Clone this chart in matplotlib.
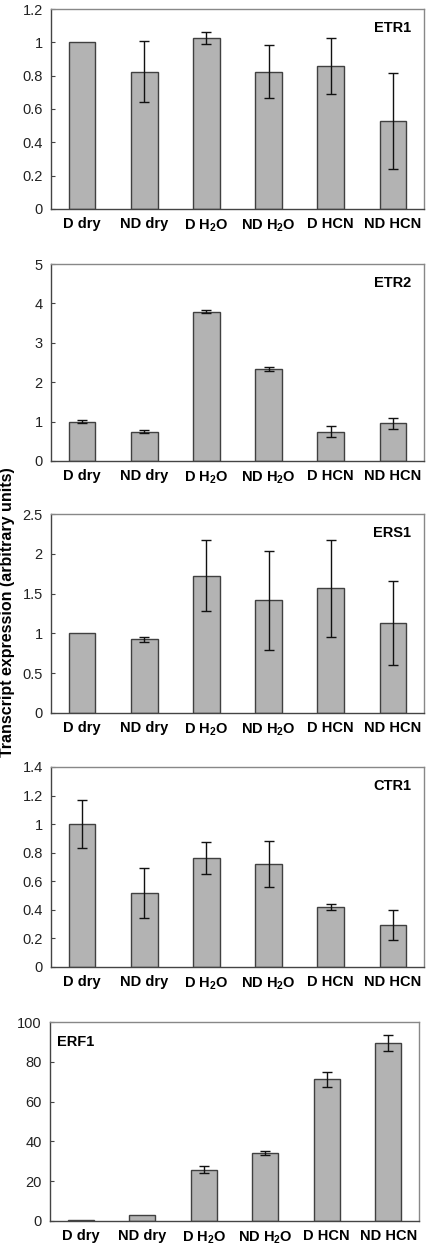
import matplotlib

matplotlib.use("Agg")
import matplotlib.pyplot as plt
import numpy as np

plt.rcParams["font.family"] = ["Liberation Sans", "DejaVu Sans"]
plt.rcParams["mathtext.fontset"] = "custom"
plt.rcParams["mathtext.rm"] = "Liberation Sans:bold"
plt.rcParams["mathtext.bf"] = "Liberation Sans:bold"
plt.rcParams["mathtext.default"] = "rm"

categories = ["D dry", "ND dry", "D H$_2$O", "ND H$_2$O", "D HCN", "ND HCN"]

genes = ["ETR1", "ETR2", "ERS1", "CTR1", "ERF1"]

etr1_mean = [1.0, 0.825, 1.025, 0.825, 0.857, 0.528]
etr1_err = [0.0, 0.185, 0.035, 0.16, 0.167, 0.287]

etr2_mean = [1.0, 0.745, 3.79, 2.34, 0.745, 0.955]
etr2_err = [0.03, 0.03, 0.03, 0.05, 0.145, 0.145]

ers1_mean = [1.0, 0.924, 1.727, 1.417, 1.568, 1.133]
ers1_err = [0.0, 0.03, 0.45, 0.62, 0.61, 0.53]

ctr1_mean = [1.0, 0.518, 0.763, 0.723, 0.42, 0.294]
ctr1_err = [0.17, 0.176, 0.113, 0.16, 0.019, 0.107]

erf1_mean = [0.5, 3.2, 25.75, 34.1, 71.2, 89.5]
erf1_err = [0.0, 0.0, 1.8, 1.0, 3.8, 4.2]

means = [etr1_mean, etr2_mean, ers1_mean, ctr1_mean, erf1_mean]
errs = [etr1_err, etr2_err, ers1_err, ctr1_err, erf1_err]
ylims = [1.2, 5, 2.5, 1.4, 100]
ysteps = [0.2, 1, 0.5, 0.2, 20]

# axes boxes in pixels (left, top, right, bottom)
boxes = [
    (51, 9, 424, 209),
    (51, 264, 424, 461),
    (51, 514, 424, 713),
    (51, 767, 424, 967),
    (50, 1022, 419, 1221),
]

W, H = 428, 1244
fig = plt.figure(figsize=(W / 100, H / 100), dpi=100)

for i, gene in enumerate(genes):
    l, t, r, b = boxes[i]
    ax = fig.add_axes([l / W, 1 - b / H, (r - l) / W, (b - t) / H])
    x = np.arange(len(categories))
    ax.bar(x, means[i], width=0.43, color="#b3b3b3", edgecolor="#404040", linewidth=1.0)
    e = np.array(errs[i])
    m = np.array(means[i])
    sel = e > 0
    ax.errorbar(x[sel], m[sel], yerr=e[sel], fmt="none", ecolor="#111111",
                elinewidth=1.0, capsize=3.5, capthick=1.0)
    ax.set_xlim(-0.5, 5.5)
    ax.set_ylim(0, ylims[i])
    ticks = np.arange(0, ylims[i] + ysteps[i] / 2, ysteps[i])
    ax.set_yticks(ticks)
    ax.set_yticklabels(["%g" % round(v, 1) for v in ticks], fontsize=10.5)
    ax.set_xticks(x)
    ax.set_xticklabels(categories, fontsize=10.5, fontweight="bold")
    ax.tick_params(axis="y", direction="in", length=3, width=0.8, pad=6, colors="#444444",
                   labelcolor="#222222")
    ax.tick_params(axis="x", length=0, pad=6)
    for s in ["left", "bottom"]:
        ax.spines[s].set_color("#444444")
        ax.spines[s].set_linewidth(1.0)
    for s in ["top", "right"]:
        ax.spines[s].set_color("#888888")
        ax.spines[s].set_linewidth(1.0)
    if gene == "ERF1":
        ax.text(0.02, 0.9, gene, transform=ax.transAxes, fontsize=10.5,
                fontweight="bold", ha="left", va="center")
    else:
        ax.text(0.965, 0.905, gene, transform=ax.transAxes, fontsize=10.5,
                fontweight="bold", ha="right", va="center")

fig.text(8 / W, 1 - 612 / H, "Transcript expression (arbitrary units)", rotation=90,
         fontsize=11.5, fontweight="bold", ha="center", va="center")

fig.savefig("out.png", dpi=100)
